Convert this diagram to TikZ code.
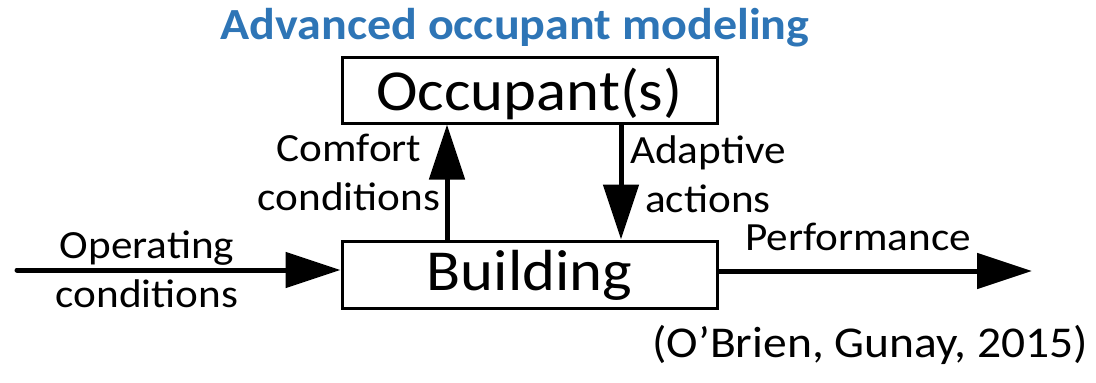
\documentclass[tikz,border=0pt]{standalone}
\usepackage{fontspec}
\setmainfont[FakeStretch=1.08]{Carlito}
\usetikzlibrary{arrows.meta}
\definecolor{titleblue}{HTML}{2E75B6}
\tikzset{
  block/.style={draw=black, line width=3pt, inner sep=0pt, minimum width=375pt,
    font=\fontsize{58}{60}\selectfont, text depth=0pt},
  flow/.style={line width=5pt, -{Triangle[length=55pt,width=35pt]}},
  lbl/.style={align=center, inner sep=0pt, anchor=base, font=\fontsize{40}{49}\selectfont},
}
\begin{document}
\begin{tikzpicture}[x=1pt, y=-1pt]
  \useasboundingbox (0,0) rectangle (1096,383);

  % title
  \node[anchor=base, inner sep=0pt, text=titleblue, font=\fontsize{44.5}{46}\selectfont\bfseries]
    (title) at (515,39) {Advanced occupant modeling};

  % the two blocks
  \node[block, minimum height=66pt, text height=40pt] (occ) at (529.5,90) {Occupant(s)};
  \node[block, minimum height=67pt, text height=31pt] (bld) at (529.5,274.5) {Building};

  % vertical exchanges between building and occupants
  \coordinate (upfoot) at (447,274.5);
  \coordinate (downfoot) at (621,90);
  \draw[flow] (upfoot |- bld.north) -- (upfoot |- occ.south);
  \draw[flow] (downfoot |- occ.south) -- (downfoot |- bld.north);

  % input and output
  \coordinate (in) at (17,270);
  \coordinate (out) at (1032,271);
  \draw[flow, line cap=round] (in) -- (in -| bld.west);
  \draw[flow] (bld.east |- out) -- (out);

  % labels (base anchor sits on the last line)
  \node[lbl] (comfort) at (349,210) {Comfort\\conditions};
  \node[lbl] (adaptive) at (708,212) {Adaptive\\actions};
  \node[lbl] (operating) at (147,307) {Operating\\conditions};
  \node[lbl] (perf) at (858,250) {Performance};
  \node[lbl, font=\fontsize{44}{46}\selectfont] (cite) at (870,357) {(O’Brien, Gunay, 2015)};
\end{tikzpicture}
\end{document}
